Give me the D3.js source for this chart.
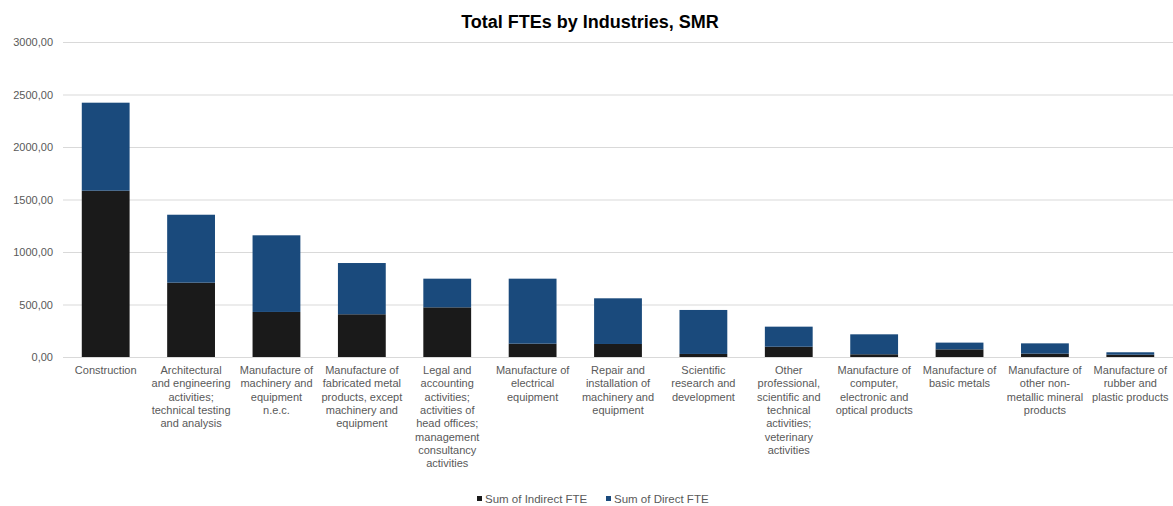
<!DOCTYPE html>
<html lang="en">
<head>
<meta charset="UTF-8">
<title>Total FTEs by Industries, SMR</title>
<style>
  body { margin: 0; background: #fff; }
  text { font-family: "Liberation Sans", Arial, sans-serif; }
</style>
</head>
<body>
<div id="chart"></div>
<script src="https://d3js.org/d3.v7.min.js"></script>
<script>
const categories = [
  "Construction",
  "Architectural\nand engineering\nactivities;\ntechnical testing\nand analysis",
  "Manufacture of\nmachinery and\nequipment\nn.e.c.",
  "Manufacture of\nfabricated metal\nproducts, except\nmachinery and\nequipment",
  "Legal and\naccounting\nactivities;\nactivities of\nhead offices;\nmanagement\nconsultancy\nactivities",
  "Manufacture of\nelectrical\nequipment",
  "Repair and\ninstallation of\nmachinery and\nequipment",
  "Scientific\nresearch and\ndevelopment",
  "Other\nprofessional,\nscientific and\ntechnical\nactivities;\nveterinary\nactivities",
  "Manufacture of\ncomputer,\nelectronic and\noptical products",
  "Manufacture of\nbasic metals",
  "Manufacture of\nother non-\nmetallic mineral\nproducts",
  "Manufacture of\nrubber and\nplastic products"
];
const indirectFTE = [1584, 708, 429, 407, 473, 127, 124, 29, 98, 26, 73, 32, 22];
const directFTE   = [838, 647, 730, 488, 273, 619, 435, 419, 191, 190, 64, 98, 23];
const yTicks = [0, 500, 1000, 1500, 2000, 2500, 3000];
const seriesNames = ["Sum of Indirect FTE", "Sum of Direct FTE"];
const seriesColors = ["#1a1a1a", "#1a4a7c"];

const width = 1173, height = 506;
const margin = {top: 42, right: 0, bottom: 149, left: 63};

const svg = d3.select("#chart").append("svg")
  .attr("width", width).attr("height", height);

const rows = categories.map((c, i) => ({cat: c, indirect: indirectFTE[i], direct: directFTE[i]}));
const stack = d3.stack().keys(["indirect", "direct"])(rows);

const x = d3.scaleBand().domain(categories)
  .range([margin.left, width - margin.right])
  .paddingInner(0.44).paddingOuter(0.22);
const y = d3.scaleLinear().domain([0, 3000]).range([height - margin.bottom, margin.top]);

// gridlines + y labels
const yAxis = svg.append("g")
  .attr("transform", `translate(${margin.left},0)`)
  .call(d3.axisLeft(y).tickValues(yTicks)
    .tickSize(-(width - margin.left - margin.right))
    .tickPadding(10)
    .tickFormat(d => d3.format(".2f")(d).replace(".", ",")));
yAxis.select(".domain").remove();
yAxis.selectAll(".tick line").attr("stroke", "#d9d9d9").attr("stroke-width", 1);
yAxis.selectAll(".tick text").attr("fill", "#595959").attr("font-size", 11);

// bars
svg.append("g").selectAll("g").data(stack).join("g")
  .attr("fill", (d, i) => seriesColors[i])
  .selectAll("rect").data(d => d).join("rect")
  .attr("x", d => x(d.data.cat))
  .attr("width", x.bandwidth())
  .attr("y", d => y(d[1]))
  .attr("height", d => y(d[0]) - y(d[1]));

// x labels
const xAxis = svg.append("g")
  .attr("transform", `translate(0,${y(0)})`)
  .call(d3.axisBottom(x).tickSize(0).tickFormat(""));
xAxis.select(".domain").attr("stroke", "#d9d9d9");
xAxis.selectAll(".tick").each(function(d) {
  const t = d3.select(this).append("text")
    .attr("fill", "#595959").attr("font-size", 11)
    .attr("text-anchor", "middle").attr("y", 17);
  d.split("\n").forEach((line, i) => {
    t.append("tspan").attr("x", 0).attr("dy", i === 0 ? 0 : 13.3).text(line);
  });
});

// title
svg.append("text")
  .attr("x", 590).attr("y", 28)
  .attr("text-anchor", "middle")
  .attr("font-size", 18).attr("font-weight", "bold").attr("fill", "#000")
  .text("Total FTEs by Industries, SMR");

// legend
const legend = svg.append("g").attr("transform", "translate(477,499)");
const legX = [0, 129];
seriesNames.forEach((name, i) => {
  const g = legend.append("g").attr("transform", `translate(${legX[i]},0)`);
  g.append("rect").attr("x", 0).attr("y", -3).attr("width", 5).attr("height", 5)
    .attr("fill", seriesColors[i]);
  g.append("text").attr("x", 8).attr("y", 0).attr("dy", "0.35em")
    .attr("font-size", 11.5).attr("fill", "#595959").text(name);
});
</script>
</body>
</html>
